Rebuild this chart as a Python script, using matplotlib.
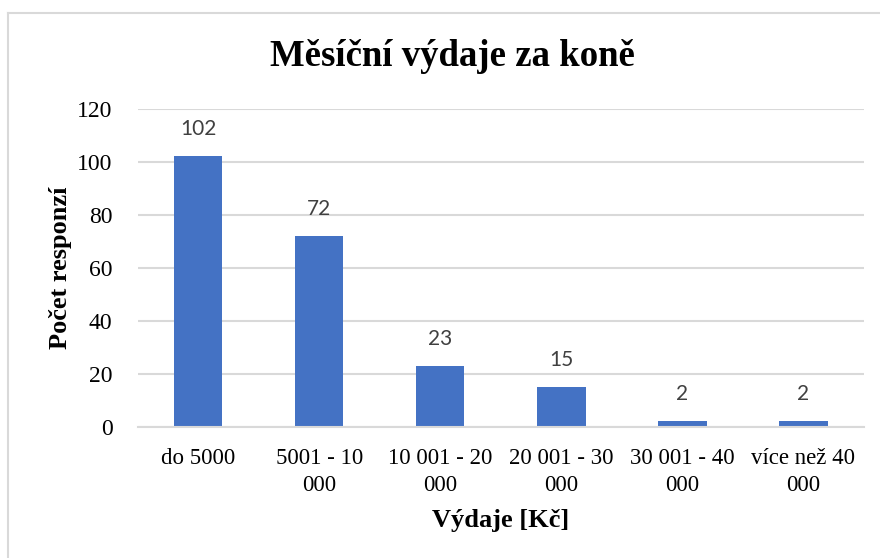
import matplotlib
matplotlib.use("Agg")
import matplotlib.pyplot as plt
from matplotlib.lines import Line2D

categories = ["do 5000", "5001 - 10\n000", "10 001 - 20\n000", "20 001 - 30\n000",
              "30 001 - 40\n000", "více než 40\n000"]
counts = [102, 72, 23, 15, 2, 2]
yticks = [0, 20, 40, 60, 80, 100, 120]

SERIF = ["Liberation Serif", "DejaVu Serif"]
W, H = 880, 558
L, R, T, B = 137.5, 864, 108.7, 426.7   # plot area in pixels

fig = plt.figure(figsize=(W / 100, H / 100), dpi=100)
ax = fig.add_axes([L / W, 1 - B / H, (R - L) / W, (B - T) / H])

x = range(len(categories))
bars = ax.bar(x, counts, width=0.4, color="#4472C4", zorder=2)
for b, v in zip(bars, counts):
    ax.text(b.get_x() + b.get_width() / 2, v + 8.0, str(v), ha="center", va="baseline",
            fontsize=15, color="#404040", family=["Lato", "DejaVu Sans"])

ax.set_ylim(0, 120)
ax.set_xlim(-0.5, len(categories) - 0.5)
ax.set_yticks(yticks)
ax.set_yticklabels([str(t) for t in yticks], family=SERIF, fontsize=17)
ax.set_xticks(list(x))
ax.set_xticklabels(categories, family=SERIF, fontsize=16.5, linespacing=1.4)
ax.tick_params(length=0)
ax.tick_params(axis="x", pad=15)
ax.tick_params(axis="y", pad=18)
ax.grid(axis="y", color="#d9d9d9", linewidth=1.5, zorder=0)
for s in ("top", "right", "left"):
    ax.spines[s].set_visible(False)
ax.spines["bottom"].set_color("#d9d9d9")
ax.spines["bottom"].set_linewidth(1.5)

ax.set_ylabel("Počet responzí", family=SERIF, fontsize=19, fontweight="bold")
ax.yaxis.label.set_verticalalignment("center")
ax.yaxis.set_label_coords((60 - L) / (R - L), (B - 268) / (B - T))
ax.set_xlabel("Výdaje [Kč]", family=SERIF, fontsize=19, fontweight="bold")
ax.xaxis.label.set_verticalalignment("center")
ax.xaxis.set_label_coords(0.5, (B - 520) / (B - T))
fig.text(452 / W, 1 - 57 / H, "Měsíční výdaje za koně", ha="center", va="center",
         family=SERIF, fontsize=26.5, fontweight="bold")

# chart border (only top and left edges fall inside the picture)
fig.add_artist(Line2D([8 / W, 1], [1 - 13 / H] * 2, transform=fig.transFigure,
                      color="#d9d9d9", linewidth=1.5))
fig.add_artist(Line2D([8 / W] * 2, [0, 1 - 13 / H], transform=fig.transFigure,
                      color="#d9d9d9", linewidth=1.5))

fig.savefig("out.png", dpi=100)
